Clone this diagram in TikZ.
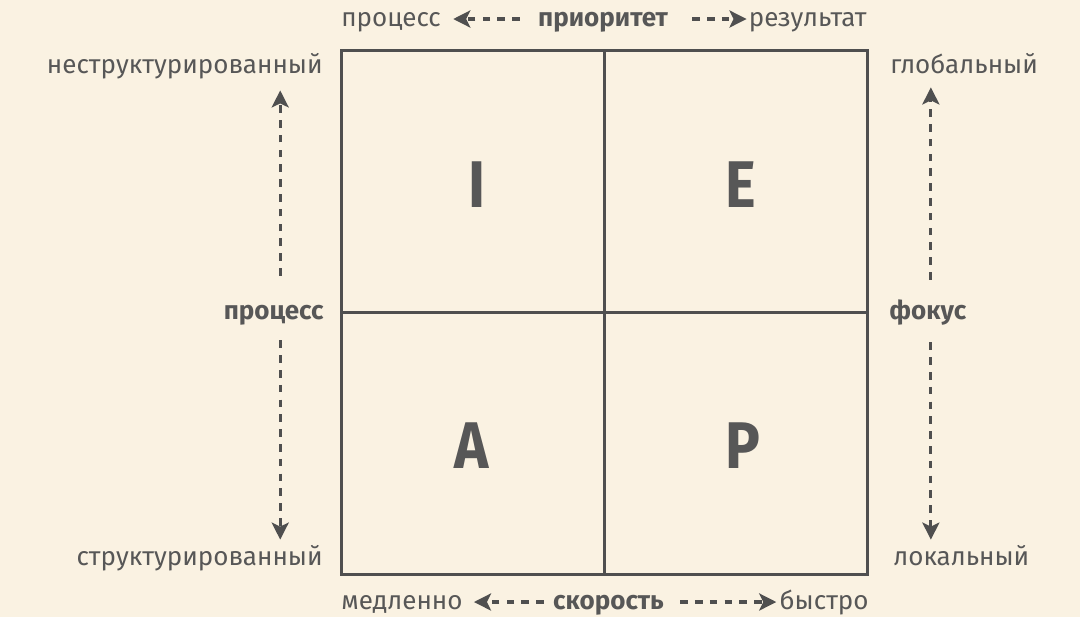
\documentclass[tikz,border=0pt]{standalone}
\usepackage{fontspec}
\setmainfont{Fira Sans}
\usetikzlibrary{arrows.meta}
\definecolor{bg}{HTML}{FAF2E2}
\definecolor{ink}{HTML}{575757}
\definecolor{linec}{HTML}{4F4F4F}
\begin{document}
\begin{tikzpicture}[x=0.5pt,y=-0.5pt,
  lbl/.style={inner sep=0pt, text height=7pt, text depth=0pt, text=ink, font=\fontsize{13}{16}\selectfont},
  lblb/.style={lbl, font=\fontsize{13}{16}\selectfont\bfseries},
  big/.style={inner sep=0pt, anchor=base, text=ink, font=\fontsize{33}{36}\selectfont\bfseries},
  dar/.style={draw=linec, line width=1.6pt, dash pattern=on 3.8pt off 3.6pt, -{Stealth[length=8.5pt,width=8.5pt,inset=2pt]}},
  gridline/.style={draw=linec, line width=1.5pt}
]
\fill[bg] (0,0) rectangle (1080,617);
\useasboundingbox (0,0) rectangle (1080,617);

% square
\node[gridline, minimum width=263pt, minimum height=262pt, inner sep=0pt] (sq) at (604.5,312.5) {};
\draw[gridline] (sq.north) -- (sq.south);
\draw[gridline] (sq.west) -- (sq.east);

% letters
\node[big, xscale=0.88, transform shape] (I) at (477,207) {I};
\node[big, xscale=0.88, transform shape] (E) at (741,207) {E};
\node[big, xscale=0.88, transform shape] (A) at (472,468) {A};
\node[big, xscale=0.88, transform shape] (P) at (743,468) {P};

% top row
\node[lbl, anchor=base west] (proctop) at (341,26) {процесс};
\node[lblb, anchor=base] (prio) at (603,26) {приоритет};
\node[lbl, anchor=base east] (res) at (867,26) {результат};
\draw[dar, shorten <=9pt, shorten >=6pt] (prio.west) -- (proctop.east);
\draw[dar, shorten <=12pt, shorten >=1pt] (prio.east) -- (res.west);

% bottom row
\node[lbl, anchor=base west] (slow) at (341,609) {медленно};
\node[lblb, anchor=base] (speed) at (608.5,609) {скорость};
\node[lbl, anchor=base east] (fast) at (869,609) {быстро};
\draw[dar, shorten <=4.5pt, shorten >=5.5pt] (speed.west) -- (slow.east);
\draw[dar, shorten <=8pt, shorten >=1.5pt] (speed.east) -- (fast.west);

% left column
\node[lbl, anchor=base east] (unstr) at (323,73) {неструктурированный};
\node[lblb, anchor=base east] (procL) at (324,319) {процесс};
\node[lbl, anchor=base east] (str) at (323,565) {структурированный};
\draw[dar, shorten <=14.5pt, shorten >=8.5pt] ([xshift=3.25pt]procL.north) -- ([xshift=3.25pt]procL.north |- unstr.south);
\draw[dar, shorten <=10.5pt, shorten >=5.5pt] ([xshift=3.25pt]procL.south) -- ([xshift=3.25pt]procL.south |- str.north);

% right column
\node[lbl, anchor=base west] (glob) at (890,73) {глобальный};
\node[lblb, anchor=base west] (focus) at (889,319) {фокус};
\node[lbl, anchor=base west] (loc) at (893,565) {локальный};
\draw[dar, shorten <=12.5pt, shorten >=7pt] ([xshift=1.5pt]focus.north) -- ([xshift=1.5pt]focus.north |- glob.south);
\draw[dar, shorten <=11.5pt, shorten >=5.5pt] ([xshift=1.5pt]focus.south) -- ([xshift=1.5pt]focus.south |- loc.north);
\end{tikzpicture}
\end{document}
